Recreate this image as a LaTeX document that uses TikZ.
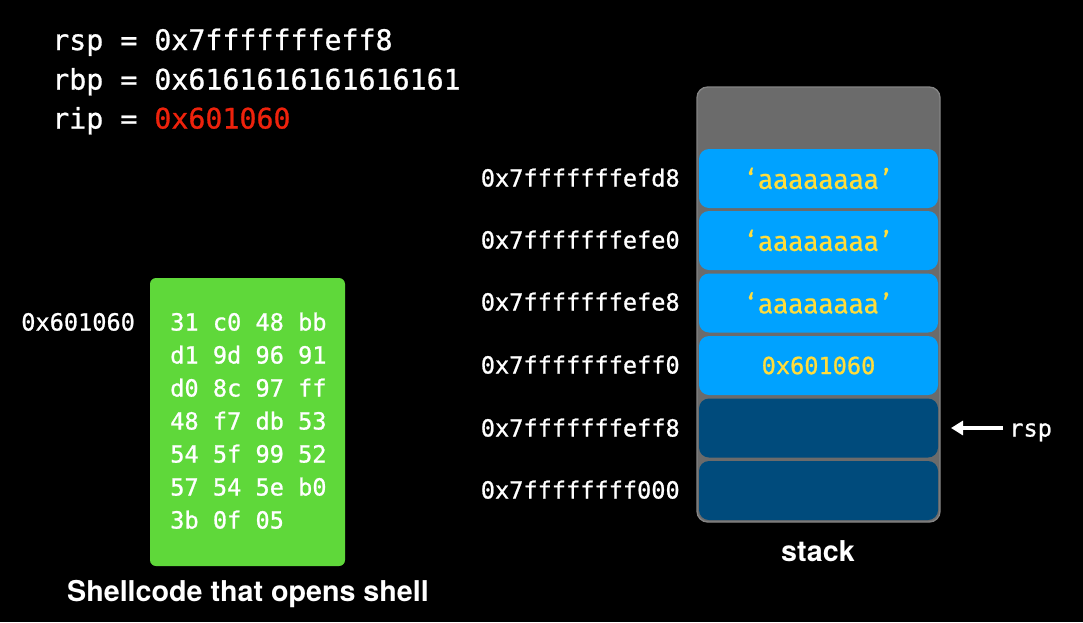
\documentclass[tikz,border=0pt]{standalone}
\usepackage{fontspec}
\setmainfont{TeX Gyre Heros}
\newfontfamily\monof[FakeBold=0.9]{DejaVu Sans Mono}
\newfontfamily\firaf[FakeBold=0.4]{Fira Sans}
\usetikzlibrary{arrows.meta}
\definecolor{stackgray}{HTML}{6B6B6B}
\definecolor{stackedge}{HTML}{848484}
\definecolor{cyancell}{HTML}{00A2FF}
\definecolor{darkcell}{HTML}{004B7C}
\definecolor{codegreen}{HTML}{5FD83A}
\definecolor{valyellow}{HTML}{FFDD3C}
\definecolor{ripred}{HTML}{EE220C}
\begin{document}
\begin{tikzpicture}[x=0.75pt,y=-0.75pt,
  regtext/.style={inner sep=0pt,anchor=base west,text=white,font=\monof\fontsize{21.2}{25}\selectfont},
  addrtext/.style={inner sep=0pt,anchor=base east,text=white,font=\monof\fontsize{17.7}{21}\selectfont},
  codetext/.style={inner sep=0pt,anchor=base west,text=white,font=\monof\fontsize{17.7}{21}\selectfont},
  cellbox/.style={rounded corners=7.5pt,minimum width=179.25pt,minimum height=44.25pt,inner sep=0pt,text=valyellow},
  lightcell/.style={cellbox,fill=cyancell,font=\firaf\fontsize{21}{25}\selectfont},
  monocell/.style={cellbox,fill=cyancell,font=\monof\fontsize{17.7}{21}\selectfont},
  darkcellbox/.style={cellbox,fill=darkcell},
  caption/.style={inner sep=0pt,text=white,font=\bfseries\fontsize{21.5}{25}\selectfont}
]
\fill[black] (0,0) rectangle (1083,622);
\useasboundingbox (0,0) rectangle (1083,622);

% registers
\node[regtext] (rsp) at (52,50) {rsp = 0x7fffffffeff8};
\node[regtext] (rbp) at (52,89.5) {rbp = 0x6161616161616161};
\node[regtext] (rip) at (52,128.5) {rip = \textcolor{ripred}{0x601060}};

% shellcode
\node[fill=codegreen,rounded corners=4.5pt,minimum width=146.25pt,minimum height=216pt,inner sep=0pt] (code) at (247.5,422) {};
\node[codetext] (c1) at (170,330.5) {31 c0 48 bb};
\node[codetext] (c2) at (170,363.5) {d1 9d 96 91};
\node[codetext] (c3) at (170,396.5) {d0 8c 97 ff};
\node[codetext] (c4) at (170,429.5) {48 f7 db 53};
\node[codetext] (c5) at (170,462.5) {54 5f 99 52};
\node[codetext] (c6) at (170,495.5) {57 54 5e b0};
\node[codetext] (c7) at (170,528.5) {3b 0f 05};
\node[codetext] (codeaddr) at (21,330.5) {0x601060};
\node[caption] (codecap) at (248,594) {Shellcode that opens shell};

% stack
\node[fill=stackgray,draw=stackedge,line width=1pt,rounded corners=8pt,minimum width=182.25pt,minimum height=326.25pt,inner sep=0pt] (stack) at (818.5,304.5) {};
\node[lightcell] (s1) at (818.5,178.5) {‘\hspace{3pt}aaaaaaaa\hspace{3pt}’};
\node[lightcell] (s2) at (818.5,240.5) {‘\hspace{3pt}aaaaaaaa\hspace{3pt}’};
\node[lightcell] (s3) at (818.5,303) {‘\hspace{3pt}aaaaaaaa\hspace{3pt}’};
\node[monocell] (s4) at (818.5,365.5) {0x601060};
\node[darkcellbox] (s5) at (818.5,428) {};
\node[darkcellbox] (s6) at (818.5,490.5) {};
\node[caption] (stackcap) at (818,551) {stack};

\node[addrtext] (a1) at (680,186.5) {0x7fffffffefd8};
\node[addrtext] (a2) at (680,248.5) {0x7fffffffefe0};
\node[addrtext] (a3) at (680,310.5) {0x7fffffffefe8};
\node[addrtext] (a4) at (680,373.5) {0x7fffffffeff0};
\node[addrtext] (a5) at (680,436.5) {0x7fffffffeff8};
\node[addrtext] (a6) at (680,498.5) {0x7ffffffff000};

% rsp pointer
\node[inner sep=0pt,anchor=base west,text=white,font=\monof\fontsize{17.7}{21}\selectfont] (rsplab) at (1009,436.5) {rsp};
\coordinate (rspfrom) at (1003,428);
\coordinate (rsptip) at (951,428);
\draw[white,line width=2.6pt,-{Triangle[length=9pt,width=10.5pt]}] (rspfrom) -- (rsptip);
\end{tikzpicture}
\end{document}
